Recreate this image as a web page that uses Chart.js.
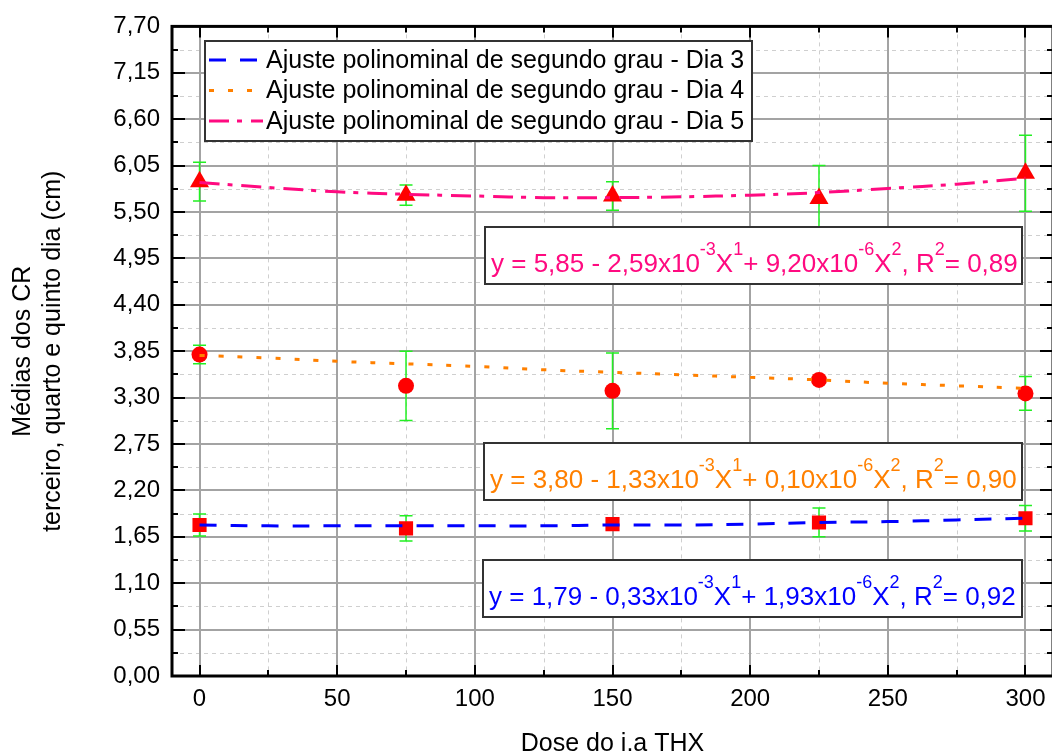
<!DOCTYPE html>
<html>
<head>
<meta charset="utf-8">
<script src="https://cdn.jsdelivr.net/npm/chart.js@4.4.0/dist/chart.umd.min.js"></script>
<style>
  html, body { margin: 0; padding: 0; background: #fff; overflow: hidden; }
  canvas { display: block; }
</style>
</head>
<body>
<canvas id="myChart" width="1064" height="755"></canvas>
<script>
// doses (x) of the measured points
const doses = [0, 75, 150, 225, 300];

const dia3 = [1.79, 1.75, 1.80, 1.82, 1.87];
const dia3Err = [0.13, 0.15, 0.06, 0.17, 0.15];
const dia4 = [3.81, 3.44, 3.38, 3.51, 3.35];
const dia4Err = [0.11, 0.41, 0.45, 0.04, 0.20];
const dia5 = [5.86, 5.70, 5.69, 5.66, 5.96];
const dia5Err = [0.23, 0.12, 0.17, 0.39, 0.45];

// fitted curves, read at every 25 units
const fitX = [0, 25, 50, 75, 100, 125, 150, 175, 200, 225, 250, 275, 300];
const fit3 = [1.79, 1.78, 1.78, 1.78, 1.78, 1.78, 1.79, 1.79, 1.80, 1.82, 1.83, 1.85, 1.87];
const fit4 = [3.80, 3.77, 3.73, 3.70, 3.67, 3.63, 3.60, 3.57, 3.54, 3.51, 3.47, 3.44, 3.41];
const fit5 = [5.85, 5.79, 5.74, 5.71, 5.69, 5.67, 5.67, 5.68, 5.70, 5.73, 5.78, 5.83, 5.90];

const fitLabels = [
    'Ajuste polinominal de segundo grau - Dia 3',
    'Ajuste polinominal de segundo grau - Dia 4',
    'Ajuste polinominal de segundo grau - Dia 5'
];

// tick values
const xTicks = [0, 25, 50, 75, 100, 125, 150, 175, 200, 225, 250, 275, 300];
const yTicks = [0, 0.55, 1.10, 1.65, 2.20, 2.75, 3.30, 3.85, 4.40, 4.95, 5.50, 6.05, 6.60, 7.15, 7.70];

// equation texts: [text, superscript] pieces
const eq5 = [['y = 5,85 - 2,59x10', ''], ['-3', 's'], ['X', ''], ['1', 's'], ['+ 9,20x10', ''], ['-6', 's'], ['X', ''], ['2', 's'], [', R', ''], ['2', 's'], ['= 0,89', '']];
const eq4 = [['y = 3,80 - 1,33x10', ''], ['-3', 's'], ['X', ''], ['1', 's'], ['+ 0,10x10', ''], ['-6', 's'], ['X', ''], ['2', 's'], [', R', ''], ['2', 's'], ['= 0,90', '']];
const eq3 = [['y = 1,79 - 0,33x10', ''], ['-3', 's'], ['X', ''], ['1', 's'], ['+ 1,93x10', ''], ['-6', 's'], ['X', ''], ['2', 's'], [', R', ''], ['2', 's'], ['= 0,92', '']];

const FONT = '"Liberation Sans", Arial, sans-serif';

function pts(xs, ys) {
    let out = [];
    for (let i = 0; i < xs.length; i++) out.push({x: xs[i], y: ys[i]});
    return out;
}

function fmt(v) {
    return v.toFixed(2).replace('.', ',');
}

let errorSets = [
    {vals: dia3, err: dia3Err},
    {vals: dia4, err: dia4Err},
    {vals: dia5, err: dia5Err}
];

let decoPlugin = {
    id: 'deco',
    beforeDatasetsDraw(chart) {
        let ctx = chart.ctx;
        let a = chart.chartArea;
        let xs = chart.scales.x, ys = chart.scales.y;
        ctx.save();
        // minor grid (dashed)
        ctx.strokeStyle = '#cfcfcf';
        ctx.lineWidth = 1;
        ctx.setLineDash([4, 4]);
        for (let i = 1; i < xTicks.length; i += 2) {
            let px = Math.round(xs.getPixelForValue(xTicks[i])) + 0.5;
            ctx.beginPath(); ctx.moveTo(px, a.top); ctx.lineTo(px, a.bottom); ctx.stroke();
        }
        for (let i = 0; i < yTicks.length - 1; i++) {
            let py = Math.round(ys.getPixelForValue((yTicks[i] + yTicks[i + 1]) / 2)) + 0.5;
            ctx.beginPath(); ctx.moveTo(a.left, py); ctx.lineTo(a.right, py); ctx.stroke();
        }
        // major grid
        ctx.setLineDash([]);
        ctx.strokeStyle = '#a3a3a3';
        ctx.lineWidth = 2;
        for (let i = 0; i < xTicks.length; i += 2) {
            let px = Math.round(xs.getPixelForValue(xTicks[i]));
            ctx.beginPath(); ctx.moveTo(px, a.top); ctx.lineTo(px, a.bottom); ctx.stroke();
        }
        for (let i = 0; i < yTicks.length; i++) {
            let py = Math.round(ys.getPixelForValue(yTicks[i]));
            ctx.beginPath(); ctx.moveTo(a.left, py); ctx.lineTo(a.right, py); ctx.stroke();
        }
        // error bars
        ctx.strokeStyle = '#22f022';
        ctx.lineWidth = 1.5;
        errorSets.forEach(function (s) {
            for (let i = 0; i < doses.length; i++) {
                let px = xs.getPixelForValue(doses[i]);
                let top = ys.getPixelForValue(s.vals[i] + s.err[i]);
                let bot = ys.getPixelForValue(s.vals[i] - s.err[i]);
                ctx.beginPath();
                ctx.moveTo(px, top); ctx.lineTo(px, bot);
                ctx.moveTo(px - 6.5, top); ctx.lineTo(px + 6.5, top);
                ctx.moveTo(px - 6.5, bot); ctx.lineTo(px + 6.5, bot);
                ctx.stroke();
            }
        });
        ctx.restore();
    },
    afterDatasetsDraw(chart) {
        let ctx = chart.ctx;
        let a = chart.chartArea;
        let xs = chart.scales.x, ys = chart.scales.y;
        ctx.save();
        // frame
        ctx.strokeStyle = '#000';
        ctx.lineWidth = 3;
        ctx.strokeRect(a.left, a.top, a.right - a.left, a.bottom - a.top);
        // tick marks pointing inward
        ctx.lineWidth = 2;
        for (let i = 0; i < xTicks.length; i++) {
            let px = Math.round(xs.getPixelForValue(xTicks[i]));
            let len = i % 2 === 0 ? 11 : 6;
            ctx.beginPath();
            ctx.moveTo(px, a.bottom); ctx.lineTo(px, a.bottom - len);
            ctx.moveTo(px, a.top); ctx.lineTo(px, a.top + len);
            ctx.stroke();
        }
        for (let i = 0; i < yTicks.length; i++) {
            let py = Math.round(ys.getPixelForValue(yTicks[i]));
            ctx.beginPath();
            ctx.moveTo(a.left, py); ctx.lineTo(a.left + 13, py);
            ctx.moveTo(a.right, py); ctx.lineTo(a.right - 13, py);
            if (i < yTicks.length - 1) {
                let pm = Math.round(ys.getPixelForValue((yTicks[i] + yTicks[i + 1]) / 2));
                ctx.moveTo(a.left, pm); ctx.lineTo(a.left + 6, pm);
                ctx.moveTo(a.right, pm); ctx.lineTo(a.right - 6, pm);
            }
            ctx.stroke();
        }

        // legend box
        ctx.fillStyle = '#fff';
        ctx.fillRect(205, 41, 547, 100);
        ctx.strokeStyle = '#333';
        ctx.lineWidth = 2;
        ctx.strokeRect(205, 41, 547, 100);
        ctx.font = '25px ' + FONT;
        ctx.textBaseline = 'middle';
        ctx.textAlign = 'left';
        for (let i = 0; i < 3; i++) {
            let ds = chart.data.datasets[i];
            let y = 60 + i * 30.5;
            ctx.strokeStyle = ds.borderColor;
            ctx.lineWidth = 3;
            ctx.setLineDash(ds.borderDash);
            ctx.beginPath(); ctx.moveTo(209, y); ctx.lineTo(263, y); ctx.stroke();
            ctx.setLineDash([]);
            ctx.fillStyle = '#000';
            ctx.fillText(ds.label, 266, y + 1);
        }

        // equation boxes
        drawEq(ctx, eq5, 485, 227, 537, 57, '#ff0a80');
        drawEq(ctx, eq4, 484, 443, 538, 57, '#ff8000');
        drawEq(ctx, eq3, 483, 560, 539, 57, '#0000ff');
        ctx.restore();
    }
};

function drawEq(ctx, parts, x, y, w, h, color) {
    ctx.fillStyle = '#fff';
    ctx.fillRect(x, y, w, h);
    ctx.strokeStyle = '#333';
    ctx.lineWidth = 2;
    ctx.strokeRect(x, y, w, h);
    ctx.fillStyle = color;
    ctx.textBaseline = 'alphabetic';
    ctx.textAlign = 'left';
    let cx = x + 6;
    let base = y + h - 12;
    parts.forEach(function (p) {
        if (p[1] === 's') {
            ctx.font = '18px ' + FONT;
            ctx.fillText(p[0], cx, base - 17);
        } else {
            ctx.font = '26px ' + FONT;
            ctx.fillText(p[0], cx, base);
        }
        cx += ctx.measureText(p[0]).width;
    });
}

let ctx = document.getElementById('myChart');
let myChart = new Chart(ctx, {
    type: 'scatter',
    data: {
        datasets: [
            {label: fitLabels[0], data: pts(fitX, fit3), showLine: true, borderColor: '#0000ff', borderWidth: 3, borderDash: [17, 14], pointRadius: 0, tension: 0.4},
            {label: fitLabels[1], data: pts(fitX, fit4), showLine: true, borderColor: '#ff8000', borderWidth: 3, borderDash: [5, 14], pointRadius: 0, tension: 0.4},
            {label: fitLabels[2], data: pts(fitX, fit5), showLine: true, borderColor: '#ff0a80', borderWidth: 3, borderDash: [20, 8, 5, 9], pointRadius: 0, tension: 0.4},
            {label: 'Dia 3', data: pts(doses, dia3), pointStyle: 'rect', pointRadius: 10, backgroundColor: '#ff0000', borderWidth: 0},
            {label: 'Dia 4', data: pts(doses, dia4), pointStyle: 'circle', pointRadius: 8, backgroundColor: '#ff0000', borderWidth: 0},
            {label: 'Dia 5', data: pts(doses, dia5), pointStyle: 'triangle', pointRadius: 11, backgroundColor: '#ff0000', borderWidth: 0}
        ]
    },
    options: {
        responsive: false,
        animation: false,
        layout: {padding: {left: 0, top: 22, right: 4, bottom: 0}},
        plugins: {legend: {display: false}, tooltip: {enabled: false}},
        scales: {
            x: {
                type: 'linear',
                min: -10,
                max: 310,
                grid: {display: false, drawTicks: false},
                border: {display: false},
                afterBuildTicks: function (s) { s.ticks = xTicks.map(v => ({value: v})); },
                afterFit: function (s) { s.height = 79; },
                ticks: {
                    autoSkip: false,
                    maxRotation: 0,
                    padding: 9,
                    color: '#000',
                    font: {family: FONT, size: 24},
                    callback: function (v) { return v % 50 === 0 ? String(v) : ''; }
                },
                title: {
                    display: true,
                    text: 'Dose do i.a THX',
                    color: '#000',
                    padding: {top: 0, bottom: -2},
                    font: {family: FONT, size: 25, lineHeight: 1}
                }
            },
            y: {
                min: 0,
                max: 7.7,
                grid: {display: false, drawTicks: false},
                border: {display: false},
                afterBuildTicks: function (s) { s.ticks = yTicks.map(v => ({value: v})); },
                afterFit: function (s) { s.width = 172; },
                ticks: {
                    autoSkip: false,
                    padding: 12,
                    color: '#000',
                    font: {family: FONT, size: 24},
                    callback: function (v) { return fmt(v); }
                },
                title: {
                    display: true,
                    text: ['Médias dos CR', 'terceiro, quarto e quinto dia (cm)'],
                    color: '#000',
                    padding: {top: 8, bottom: 0},
                    font: {family: FONT, size: 25, lineHeight: 1.2}
                }
            }
        }
    },
    plugins: [decoPlugin]
});
</script>
</body>
</html>
